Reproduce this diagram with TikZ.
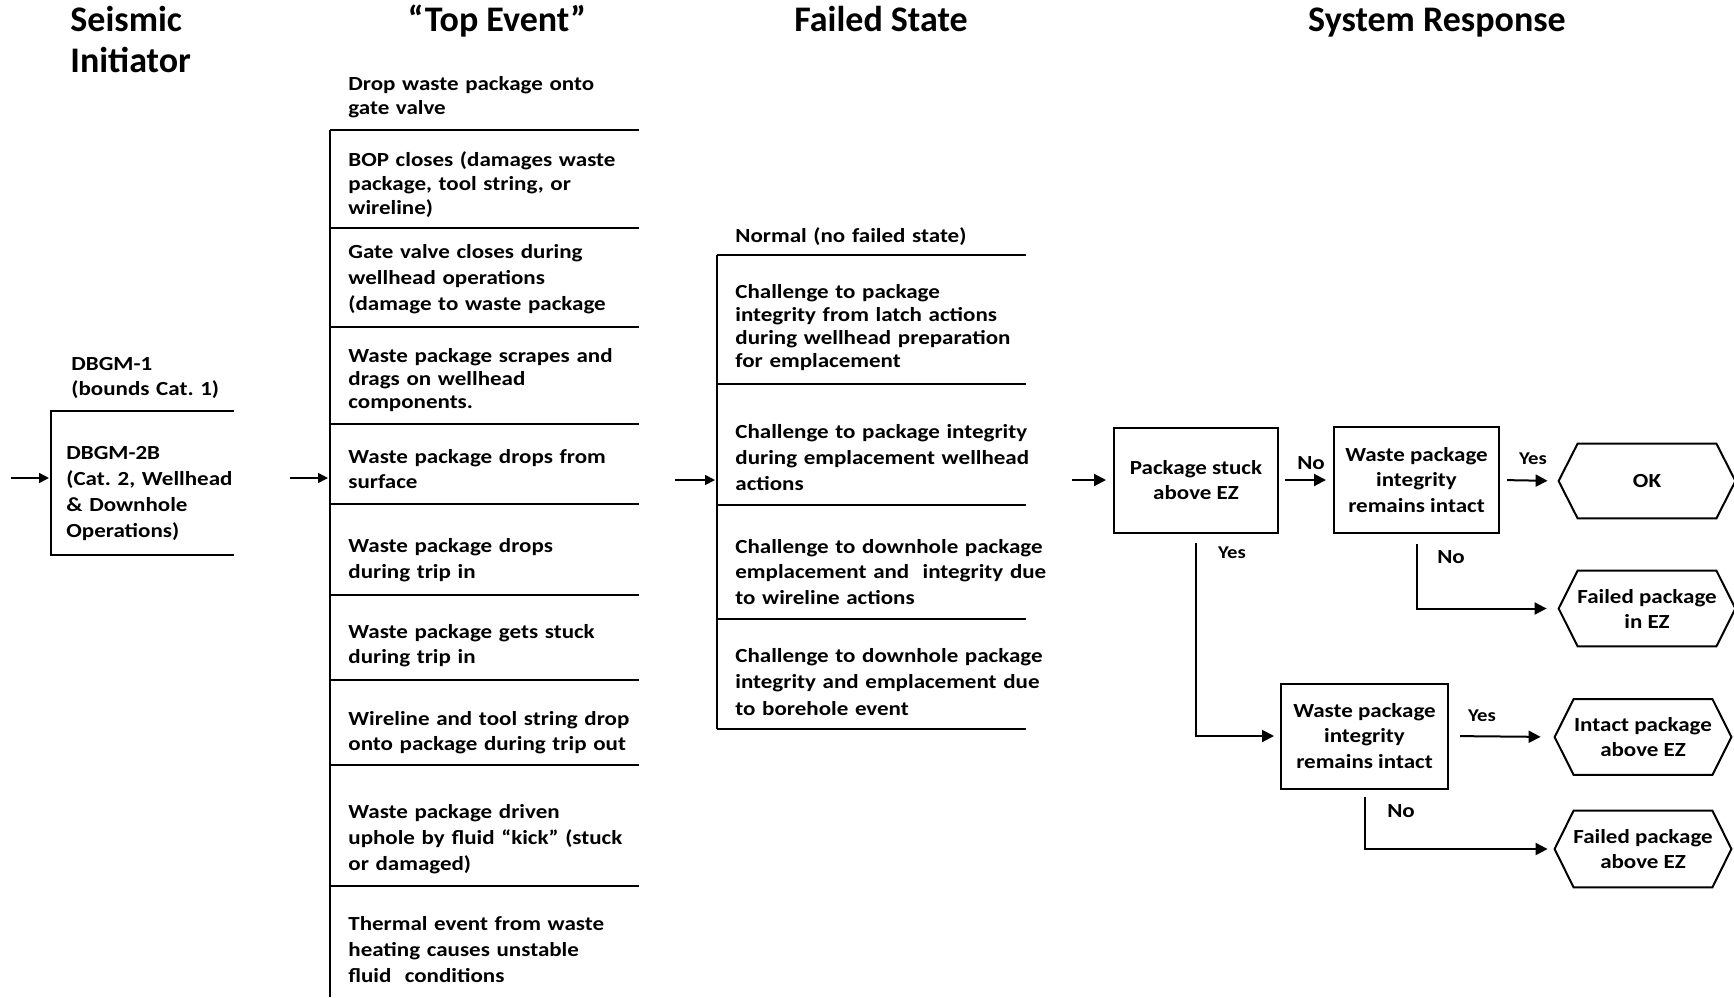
\documentclass[tikz,border=0pt]{standalone}
\usepackage{fontspec}
\newfontfamily\bodyfont[FakeStretch=1.15]{Carlito}
\newfontfamily\headfont{Carlito}
\usetikzlibrary{arrows.meta,calc}
\frenchspacing
\newcommand\hexoutline[1]{%
  \draw[line width=1pt] (#1.west) -- ($(#1.north west)+(19,0)$) -- ($(#1.north east)+(-19,0)$)
    -- (#1.east) -- ($(#1.south east)+(-19,0)$) -- ($(#1.south west)+(19,0)$) -- cycle;}
\begin{document}
\begin{tikzpicture}[x=0.5pt,y=-0.5pt,
  rule/.style={line width=1.1pt},
  thinarr/.style={line width=0.8pt,-{Triangle[length=5pt,width=5pt]}},
  arr/.style={line width=1pt,-{Triangle[length=6pt,width=6pt]}},
  head/.style={font=\headfont\bfseries\fontsize{18}{20.5}\selectfont, inner sep=0pt, anchor=base},
  txt/.style={anchor=base west, inner sep=0pt, text width=170pt, align=left, font=\bodyfont\bfseries\fontsize{10}{#1}\selectfont},
  txt/.default=12.5,
  box/.style={draw, line width=1pt, inner sep=0pt, align=center, font=\bodyfont\bfseries\fontsize{10}{12.75}\selectfont},
  hexnode/.style={inner sep=0pt, align=center, font=\bodyfont\bfseries\fontsize{10}{12.5}\selectfont},
  lab/.style={inner sep=0pt, font=\bodyfont\bfseries\fontsize{#1}{#1}\selectfont},
]
\useasboundingbox (0,0) rectangle (1734,997);

% headers
\node[head, anchor=base west, text width=80pt, align=left] (hs) at (70,31) {Seismic\\Initiator};
\node[head] (ht) at (497,31) {“Top Event”};
\node[head] (hf) at (881,31) {Failed State};
\node[head] (hr) at (1437,31) {System Response};

% seismic initiator column
\coordinate (s1) at (51,411); \coordinate (s1e) at (234,411);
\coordinate (s2) at (51,555); \coordinate (s2e) at (234,555);
\draw[rule] (s1e) -- (s1) -- (s2) -- (s2e);
\node[txt=12.5] (d1) at (71,370) {DBGM-1\\(bounds Cat. 1)};
\node[txt=13.1] (d2) at (66,459) {DBGM-2B\\(Cat. 2, Wellhead\\\& Downhole\\Operations)};
\coordinate (sa) at (11,478);
\coordinate (sat) at (51,478);
\draw[thinarr, shorten >=1pt] (sa) -- (sat);

% top event column
\coordinate (t0) at (330,130); \coordinate (tb) at (330,997);
\draw[rule] (t0) -- (tb);
\foreach \yy in {130,228,327,424,504,595,680,765,886} \draw[rule] (330,\yy) -- (639,\yy);
\node[txt=12.25] (e1) at (348,90) {Drop waste package onto\\gate valve};
\node[txt=12.1] (e2) at (348,166) {BOP closes (damages waste\\package, tool string, or\\wireline)};
\node[txt=13] (e3) at (348,258) {Gate valve closes during\\wellhead operations\\(damage to waste package};
\node[txt=11.6] (e4) at (348,362) {Waste package scrapes and\\drags on wellhead\\components.};
\node[txt=12.5] (e5) at (348,463) {Waste package drops from\\surface};
\node[txt=13] (e6) at (348,552) {Waste package drops\\during trip in};
\node[txt=12.5] (e7) at (348,638) {Waste package gets stuck\\during trip in};
\node[txt=12.5] (e8) at (348,725) {Wireline and tool string drop\\onto package during trip out};
\node[txt=13] (e9) at (348,818) {Waste package driven\\uphole by fluid “kick” (stuck\\or damaged)};
\node[txt=13] (e10) at (348,930) {Thermal event from waste\\heating causes unstable\\fluid\ \ conditions};
\coordinate (ta) at (290,478);
\coordinate (tat) at (330,478);
\draw[thinarr, shorten >=1pt] (ta) -- (tat);

% failed state column
\coordinate (f0) at (717,255); \coordinate (fb) at (717,729);
\draw[rule] (f0) -- (fb);
\foreach \yy in {255,384,505,619,729} \draw[rule] (717,\yy) -- (1026,\yy);
\node[txt=12.5] (c0) at (735,242) {Normal (no failed state)};
\node[txt=11.5] (c1) at (735,298) {Challenge to package\\integrity from latch actions\\during wellhead preparation\\for emplacement};
\node[txt=13] (c2) at (735,438) {Challenge to package integrity\\during emplacement wellhead\\actions};
\node[txt=12.75] (c3) at (735,553) {Challenge to downhole package\\emplacement and\ \ integrity due\\to wireline actions};
\node[txt=13.25] (c4) at (735,662) {Challenge to downhole package\\integrity and emplacement due\\to borehole event};
\coordinate (fa) at (675,480);
\coordinate (fat) at (717,480);
\draw[thinarr, shorten >=1pt] (fa) -- (fat);

% system response
\node[box, minimum width=82pt, minimum height=52.5pt] (b1) at (1196,480) {Package stuck\\above EZ};
\node[box, minimum width=82.5pt, minimum height=53pt] (b2) at (1416.5,480) {Waste package\\integrity\\remains intact};
\node[box, minimum width=83.5pt, minimum height=52.5pt] (b3) at (1364.5,736) {Waste package\\integrity\\remains intact};

\node[hexnode, minimum width=88pt, minimum height=37pt] (ok) at (1647,481) {OK};
\node[hexnode, minimum width=88pt, minimum height=37.5pt] (fez) at (1647,608.5) {Failed package\\in EZ};
\node[hexnode, minimum width=88pt, minimum height=37.5pt] (iez) at (1643,737) {Intact package\\above EZ};
\node[hexnode, minimum width=88pt, minimum height=38pt] (fae) at (1643,849) {Failed package\\above EZ};
\hexoutline{ok}
\hexoutline{fez}
\hexoutline{iez}
\hexoutline{fae}

\coordinate (sr) at (1072,480);
\draw[arr, shorten >=3.5pt] (sr) -- (b1.west);
\draw[arr, shorten <=3pt, shorten >=3.5pt] (b1.east) -- (b2.west);
\draw[arr, shorten <=3.5pt, shorten >=5.5pt] (b2.east) -- (ok.west);
\draw[arr, shorten <=4.5pt, shorten >=3pt] (b1.south) |- (b3.west);
\draw[arr, shorten <=5pt, shorten >=6pt] (b2.south) |- (fez.west);
\draw[arr, shorten <=5.5pt, shorten >=7pt] (b3.east) -- (iez.west);
\draw[arr, shorten <=3.5pt, shorten >=3.5pt] (b3.south) |- (fae.west);

\node[lab=10] (no1) at (1311,463) {No};
\node[lab=9] (yes1) at (1533,459) {Yes};
\node[lab=9] (yes2) at (1232,553) {Yes};
\node[lab=10] (no2) at (1451,557) {No};
\node[lab=9] (yes3) at (1482,716) {Yes};
\node[lab=10] (no3) at (1401,811) {No};
\end{tikzpicture}
\end{document}
